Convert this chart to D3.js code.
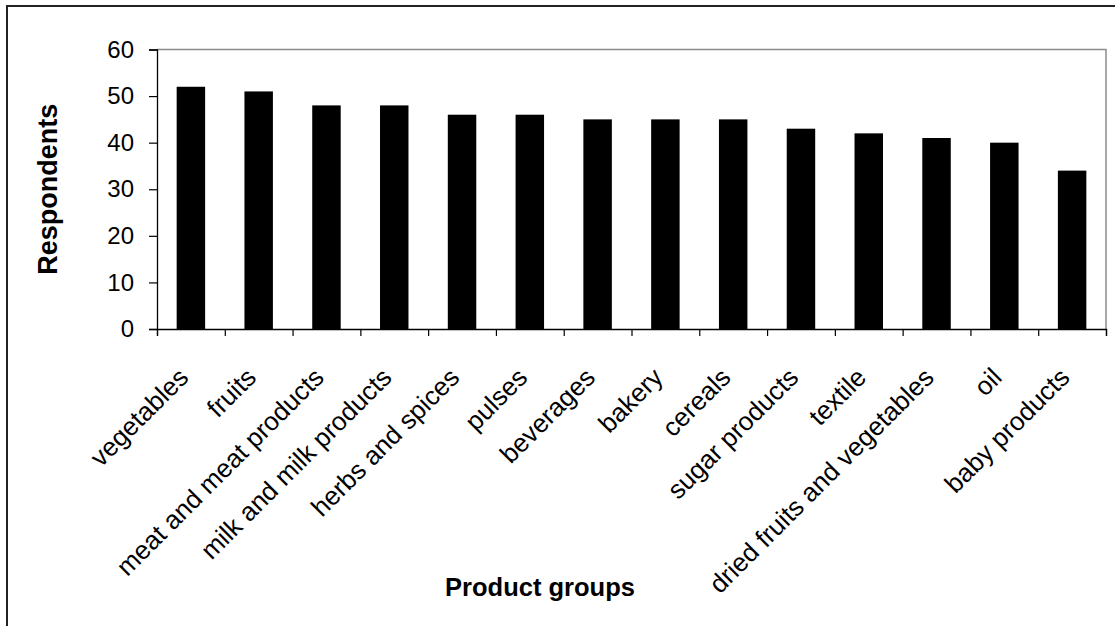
<!DOCTYPE html>
<html>
<head>
<meta charset="utf-8">
<script src="https://cdn.jsdelivr.net/npm/d3@7/dist/d3.min.js"></script>
<style>
  html, body { margin: 0; padding: 0; background: #fff; }
  svg { display: block; font-family: "Liberation Sans", Arial, sans-serif; }
</style>
</head>
<body>
<svg id="chart" width="1115" height="626"></svg>
<script>
const categories = ["vegetables", "fruits", "meat and meat products", "milk and milk products",
  "herbs and spices", "pulses", "beverages", "bakery", "cereals", "sugar products",
  "textile", "dried fruits and vegetables", "oil", "baby products"];
const respondents = [52, 51, 48, 48, 46, 46, 45, 45, 45, 43, 42, 41, 40, 34];
const yTicks = [0, 10, 20, 30, 40, 50, 60];
const yTitle = "Respondents";
const xTitle = "Product groups";

(function () {
const svg = d3.select("#chart");
const W = 1115, H = 626;
const mLeft = 157, mRight = 1106, mTop = 49.5, mBottom = 329;

svg.append("rect").attr("width", W).attr("height", H).attr("fill", "#fff");

// outer frame (only left and top visible)
svg.append("path")
  .attr("d", `M7,${H} L7,6 L${W},6`)
  .attr("fill", "none").attr("stroke", "#222").attr("stroke-width", 2);

const x = d3.scaleBand().domain(categories).range([mLeft, mRight]).paddingInner(0.58).paddingOuter(0.29);
const xEdges = d3.scaleLinear().domain([0, categories.length]).range([mLeft, mRight]);
const y = d3.scaleLinear().domain([0, 60]).range([mBottom, mTop]);

// plot area border (top & right, grey)
svg.append("path")
  .attr("d", `M${mLeft},${mTop} L${mRight},${mTop} L${mRight},${mBottom}`)
  .attr("fill", "none").attr("stroke", "#8c8c8c").attr("stroke-width", 1.5);

// bars
svg.append("g").selectAll("rect").data(categories).join("rect")
  .attr("x", d => x(d))
  .attr("width", x.bandwidth())
  .attr("y", (d, i) => y(respondents[i]))
  .attr("height", (d, i) => y(0) - y(respondents[i]))
  .attr("fill", "#000");

// y axis
const yAxis = svg.append("g").attr("transform", `translate(${mLeft},0)`)
  .call(d3.axisLeft(y).tickValues(yTicks).tickSize(8).tickPadding(15));
yAxis.select(".domain").attr("stroke", "#000").attr("stroke-width", 1.3);
yAxis.selectAll(".tick line").attr("stroke", "#000").attr("stroke-width", 1.2);
yAxis.selectAll(".tick text").attr("font-size", 24).attr("fill", "#000")
  .attr("font-family", "'Liberation Sans', Arial, sans-serif");

// x axis line with ticks at band edges
const xAxis = svg.append("g").attr("transform", `translate(0,${mBottom})`)
  .call(d3.axisBottom(xEdges).tickValues(d3.range(0, categories.length + 1)).tickSize(7).tickFormat(""));
xAxis.select(".domain").attr("stroke", "#000").attr("stroke-width", 1.3);
xAxis.selectAll(".tick line").attr("stroke", "#000").attr("stroke-width", 1.2);

// category labels rotated -45
svg.append("g").selectAll("text").data(categories).join("text")
  .attr("transform", d => `translate(${x(d) + x.bandwidth() / 2 - 1},${mBottom + 50}) rotate(-45)`)
  .attr("text-anchor", "end")
  .attr("font-size", 26)
  .attr("fill", "#000")
  .text(d => d);

// axis titles
svg.append("text")
  .attr("transform", `translate(57,${(mTop + mBottom) / 2}) rotate(-90)`)
  .attr("text-anchor", "middle")
  .attr("font-size", 27).attr("font-weight", "bold").attr("fill", "#000")
  .text(yTitle);

svg.append("text")
  .attr("x", 540).attr("y", 596)
  .attr("text-anchor", "middle")
  .attr("font-size", 25.5).attr("font-weight", "bold").attr("fill", "#000")
  .text(xTitle);
})();
</script>
</body>
</html>
